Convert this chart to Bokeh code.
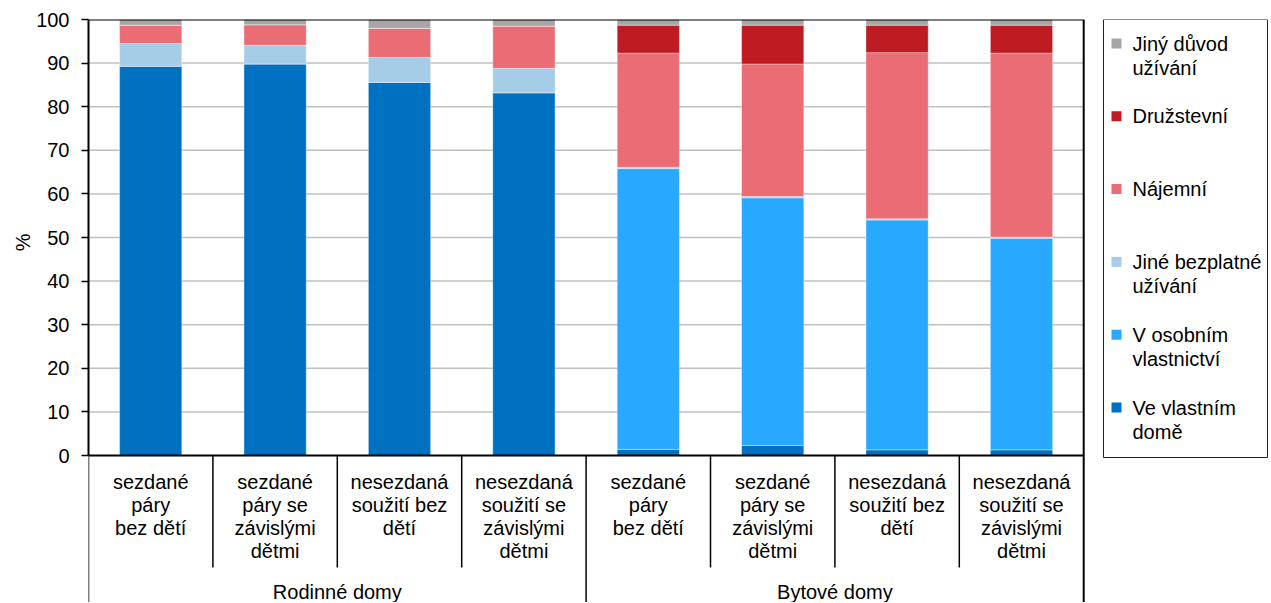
import math
from bokeh.plotting import figure
from bokeh.models import Range1d, FixedTicker, Title, ColumnDataSource
from bokeh.core.properties import value
from bokeh.embed import file_html
from bokeh.resources import INLINE

# ---------------- data ----------------
categories = [
    "sezdané\npáry\nbez dětí",
    "sezdané\npáry se\nzávislými\ndětmi",
    "nesezdaná\nsoužití bez\ndětí",
    "nesezdaná\nsoužití se\nzávislými\ndětmi",
    "sezdané\npáry\nbez dětí",
    "sezdané\npáry se\nzávislými\ndětmi",
    "nesezdaná\nsoužití bez\ndětí",
    "nesezdaná\nsoužití se\nzávislými\ndětmi",
]
groups = ["Rodinné domy", "Bytové domy"]
group_size = [4, 4]

series_names = ["Ve vlastním\ndomě", "V osobním\nvlastnictví", "Jiné bezplatné\nužívání",
                "Nájemní", "Družstevní", "Jiný důvod\nužívání"]
series_colors = ["#0070C0", "#29A8FF", "#A6CDE8", "#EA6C74", "#BE1B23", "#A6A6A6"]

ve_vlastnim_dome   = [89.3, 89.8, 85.6, 83.2, 1.4, 2.3, 1.3, 1.3]
v_osobnim_vlastn   = [0.0, 0.0, 0.0, 0.0, 64.4, 56.8, 52.7, 48.5]
jine_bezplatne     = [5.2, 4.3, 5.7, 5.6, 0.3, 0.3, 0.3, 0.3]
najemni            = [4.2, 4.7, 6.7, 9.7, 26.2, 30.4, 38.1, 42.2]
druzstevni         = [0.0, 0.0, 0.0, 0.0, 6.4, 8.9, 6.3, 6.4]
jiny_duvod         = [1.3, 1.2, 2.0, 1.5, 1.3, 1.3, 1.3, 1.3]

y_ticks = list(range(0, 101, 10))
y_title = "%"

# ---------------- geometry ----------------
FONT = "Liberation Sans"
FS = "20px"
OFFSET = 1              # page offset observed
PAGE_LEFT = 89          # frame left on page
PAGE_TOP = 20           # frame top on page
PX_PER_X = 124.4
PX_PER_Y = 4.36
FRAME_W = 1180
FRAME_H = 583
ZERO_PX = 456

def px_x(px):
    return (px - PAGE_LEFT) / PX_PER_X

def px_y(py):
    return (ZERO_PX - py) / PX_PER_Y

x_end = FRAME_W / PX_PER_X
y_start = 100 - FRAME_H / PX_PER_Y
n = len(categories)

p = figure(frame_width=FRAME_W, frame_height=FRAME_H,
           min_border_left=PAGE_LEFT - OFFSET, min_border_top=PAGE_TOP - OFFSET,
           min_border_right=0, min_border_bottom=0,
           x_range=Range1d(0, x_end), y_range=Range1d(y_start, 100),
           x_axis_location=None, output_backend="svg", toolbar_location=None)
p.outline_line_color = None
p.xgrid.visible = False
p.ygrid.visible = False
p.background_fill_color = "white"
p.border_fill_color = "white"

ax = p.yaxis[0]
ax.ticker = FixedTicker(ticks=y_ticks)
ax.bounds = (0, 100)
ax.axis_line_color = "black"
ax.axis_line_width = 2
ax.major_tick_line_color = "black"
ax.major_tick_line_width = 1.5
ax.major_tick_out = 7
ax.major_tick_in = 0
ax.minor_tick_out = 0
ax.minor_tick_in = 0
ax.major_label_standoff = 12
ax.major_label_text_font = FONT
ax.major_label_text_font_size = FS
ax.major_label_text_color = "black"

# y title, placed on the left side
t = Title(text=y_title, align="right", offset=214, text_font=FONT, text_font_size=FS,
          text_font_style="normal", text_color="black", standoff=0)
p.add_layout(t, "left")

# grid lines
gl = [v for v in y_ticks if 0 < v < 100]
p.segment(x0=[0] * len(gl), x1=[n] * len(gl), y0=gl, y1=gl,
          line_color="#C0C0C0", line_width=1.5)

# bars
xs = [i + 0.5 for i in range(n)]
src = ColumnDataSource(dict(x=xs, s0=ve_vlastnim_dome, s1=v_osobnim_vlastn, s2=jine_bezplatne,
                            s3=najemni, s4=druzstevni, s5=jiny_duvod))
p.vbar_stack(["s0", "s1", "s2", "s3", "s4", "s5"], x="x", width=0.5, source=src,
             fill_color=series_colors, line_color="white", line_alpha=0.35, line_width=1)

# frame lines
p.segment(x0=[0], x1=[n], y0=[100], y1=[100], line_color="black", line_width=2)
p.segment(x0=[0], x1=[n], y0=[0], y1=[0], line_color="black", line_width=2)
p.segment(x0=[n], x1=[n], y0=[100], y1=[y_start], line_color="black", line_width=2)

# category separators
group_edges = [0]
for g in group_size:
    group_edges.append(group_edges[-1] + g)
inner = [i for i in range(1, n) if i not in group_edges]
inner_bottom = px_y(568)
p.segment(x0=inner, x1=inner, y0=[0] * len(inner), y1=[inner_bottom] * len(inner),
          line_color="black", line_width=1.5)
p.segment(x0=group_edges[:-1], x1=group_edges[:-1], y0=[0] * len(group_edges[:-1]),
          y1=[y_start] * len(group_edges[:-1]), line_color="black", line_width=1.5)

# category labels
p.text(x=xs, y=[px_y(471)] * n, text=categories, text_align="center", text_baseline="top",
       text_font=value(FONT), text_font_size=FS, text_color="black", text_line_height=1.05)
gx = [(group_edges[i] + group_edges[i + 1]) / 2 for i in range(len(groups))]
p.text(x=gx, y=[px_y(592)] * len(groups), text=groups, text_align="center",
       text_baseline="middle", text_font=value(FONT), text_font_size=FS, text_color="black")

# legend (drawn manually)
p.quad(left=[px_x(1104)], right=[px_x(1268)], top=[px_y(20)], bottom=[px_y(458)],
       fill_color="white", line_color="#222222", line_width=1)
order = list(range(len(series_names)))[::-1]
leg_y = [44 + k * 72.8 for k in range(len(order))]
p.scatter(x=[px_x(1117)] * len(order), y=[px_y(v) for v in leg_y], marker="square", size=10,
          fill_color=[series_colors[i] for i in order], line_color=None)
p.text(x=[px_x(1133)] * len(order), y=[px_y(v - 11) for v in leg_y],
       text=[series_names[i] for i in order], text_align="left", text_baseline="top",
       text_font=value(FONT), text_font_size=FS, text_color="black", text_line_height=1.1)

open("out.html", "w").write(file_html(p, INLINE))
